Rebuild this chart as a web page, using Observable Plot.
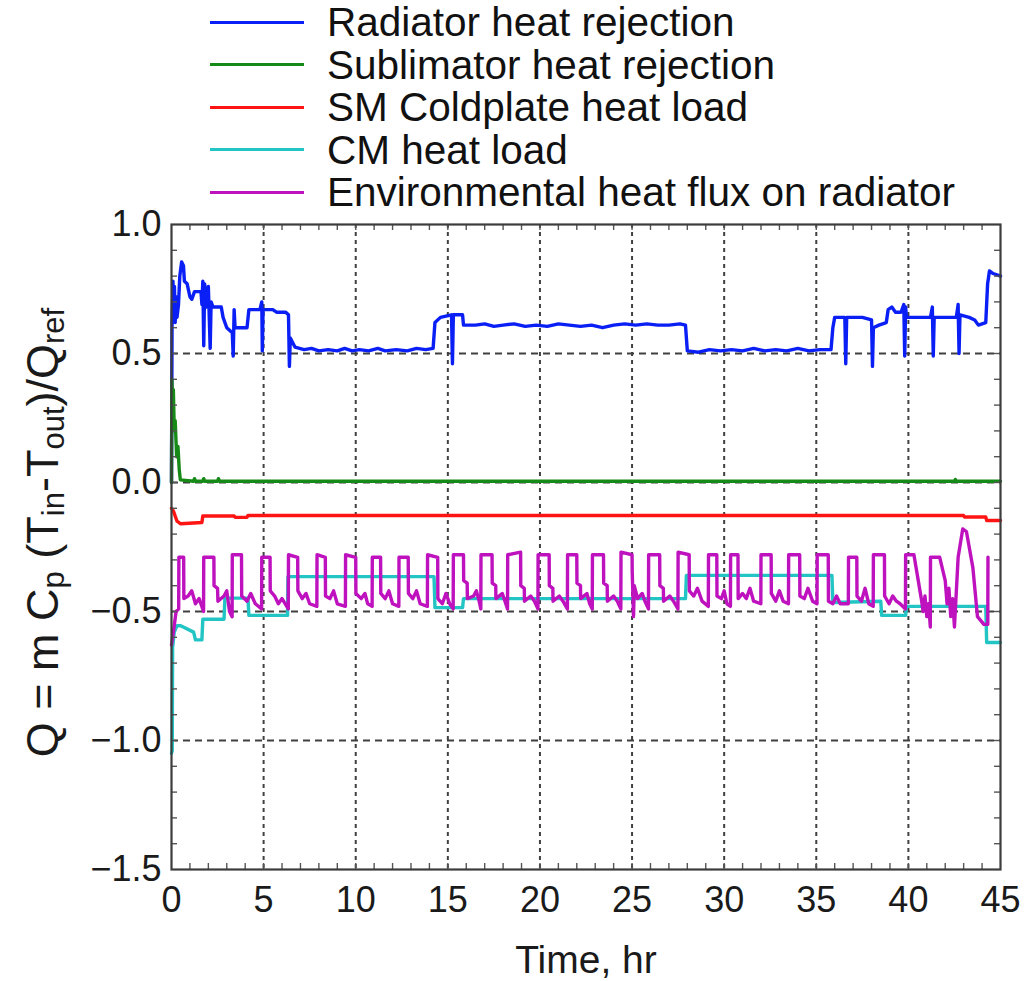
<!DOCTYPE html>
<html>
<head>
<meta charset="utf-8">
<script src="https://cdn.jsdelivr.net/npm/d3@7"></script>
<script src="https://cdn.jsdelivr.net/npm/@observablehq/plot@0.6"></script>
<style>
  html, body { margin: 0; padding: 0; background: #fff; }
  body { width: 1027px; height: 981px; overflow: hidden; font-family: "Liberation Sans", Arial, Helvetica, sans-serif; }
  #legend { position: relative; height: 200px; width: 1027px; }
  .lg-line { position: absolute; left: 210px; width: 94px; height: 3px; }
  .lg-text { position: absolute; left: 327px; height: 44px; line-height: 44px; font-size: 40.5px; color: #111; white-space: nowrap; }
</style>
</head>
<body>
<div id="legend"></div>
<div id="chart"></div>
<script>
// ---- series labels and colours ----
const seriesNames = [
  "Radiator heat rejection",
  "Sublimator heat rejection",
  "SM Coldplate heat load",
  "CM heat load",
  "Environmental heat flux on radiator"
];
const seriesColors = ["#0a1ff5", "#168a16", "#ff1414", "#22c4c4", "#bf12bf"];

// ---- axis ticks ----
const xTicks = [0, 5, 10, 15, 20, 25, 30, 35, 40, 45];
const yTicks = [-1.5, -1.0, -0.5, 0.0, 0.5, 1.0];
const xGrid = [5, 10, 15, 20, 25, 30, 35, 40];
const yGrid = [-1.0, -0.5, 0.0, 0.5];
const xMinor = [1,2,3,4,5,6,7,8,9,10,11,12,13,14,15,16,17,18,19,20,21,22,23,24,25,26,27,28,29,30,31,32,33,34,35,36,37,38,39,40,41,42,43,44];
const yMinor = [-1.4,-1.3,-1.2,-1.1,-1.0,-0.9,-0.8,-0.7,-0.6,-0.5,-0.4,-0.3,-0.2,-0.1,0.0,0.1,0.2,0.3,0.4,0.5,0.6,0.7,0.8,0.9];

// ---- series values [time hr, Q/Qref] ----
const radiator = [
  [0,0.0],[0.03,0.62],[0.08,0.78],[0.12,0.64],[0.16,0.76],[0.2,0.62],[0.25,0.72],[0.3,0.64],[0.38,0.69],
  [0.45,0.8],[0.55,0.855],[0.65,0.84],[0.7,0.78],[0.85,0.77],[1.0,0.72],[1.1,0.71],[1.25,0.74],[1.6,0.74],
  [1.65,0.69],[1.7,0.78],[1.75,0.53],[1.8,0.77],[1.9,0.68],[2.0,0.76],[2.1,0.52],[2.15,0.7],[2.25,0.68],
  [2.7,0.68],[2.8,0.64],[3.0,0.6],[3.3,0.58],[3.35,0.49],[3.4,0.67],[3.45,0.6],[3.6,0.6],[4.1,0.6],
  [4.2,0.67],[4.8,0.67],[4.9,0.7],[4.93,0.51],[4.97,0.67],[5.5,0.67],[5.7,0.66],[6.2,0.66],[6.35,0.65],
  [6.4,0.45],[6.45,0.56],[6.7,0.525],[7.2,0.515],[7.6,0.52],[8.0,0.51],[8.5,0.515],[9.0,0.51],[9.4,0.52],
  [9.8,0.51],[10.2,0.515],[10.7,0.51],[11.2,0.52],[11.6,0.51],[12.2,0.515],[12.8,0.51],[13.3,0.52],
  [13.8,0.515],[14.2,0.52],[14.3,0.62],[14.6,0.64],[15.2,0.65],[15.25,0.46],[15.3,0.65],[15.8,0.65],
  [15.85,0.61],[16.5,0.61],[17.0,0.615],[17.5,0.605],[18.0,0.61],[18.6,0.615],[19.2,0.605],[19.8,0.61],
  [20.4,0.605],[21.0,0.615],[21.6,0.61],[22.2,0.605],[22.8,0.61],[23.4,0.6],[24.0,0.61],[24.6,0.615],
  [25.2,0.61],[25.8,0.615],[26.4,0.61],[27.0,0.61],[27.6,0.615],[27.9,0.61],[28.0,0.51],[28.6,0.505],
  [29.2,0.515],[29.8,0.51],[30.4,0.515],[31.0,0.51],[31.6,0.52],[32.2,0.51],[32.8,0.515],[33.4,0.51],
  [34.0,0.52],[34.6,0.51],[35.2,0.515],[35.8,0.515],[35.9,0.6],[36.0,0.64],[36.55,0.64],[36.6,0.46],
  [36.65,0.64],[37.5,0.64],[38.0,0.63],[38.05,0.45],[38.1,0.6],[38.4,0.61],[38.8,0.62],[38.9,0.67],
  [39.1,0.68],[39.3,0.66],[39.6,0.66],[39.75,0.69],[39.8,0.49],[39.85,0.68],[39.9,0.64],[41.2,0.64],
  [41.3,0.68],[41.35,0.49],[41.4,0.64],[42.6,0.64],[42.7,0.69],[42.75,0.5],[42.8,0.65],[43.3,0.64],
  [43.6,0.63],[43.8,0.61],[44.2,0.62],[44.3,0.77],[44.4,0.82],[44.6,0.81],[45,0.8]
];
const sublimator = [
  [0,0.0],[0.02,0.4],[0.06,0.3],[0.1,0.36],[0.15,0.2],[0.2,0.24],[0.28,0.1],[0.35,0.14],[0.42,0.05],
  [0.48,0.01],[1.2,0.005],[1.25,0.015],[1.3,0.005],[1.7,0.005],[1.75,0.015],[1.8,0.005],[2.5,0.005],
  [2.55,0.015],[2.6,0.005],[42.5,0.005],[42.55,0.012],[42.6,0.005],[45,0.005]
];
const coldplate = [
  [0,-0.1],[0.1,-0.11],[0.3,-0.15],[0.5,-0.16],[1.65,-0.155],[1.7,-0.13],[3.4,-0.13],[3.45,-0.135],
  [4.1,-0.135],[4.15,-0.128],[43.0,-0.128],[43.05,-0.134],[44.2,-0.134],[44.25,-0.147],[45,-0.147]
];
const cmLoad = [
  [0,-1.05],[0.04,-1.04],[0.06,-0.64],[0.15,-0.58],[0.3,-0.555],[0.5,-0.555],[1.2,-0.58],[1.3,-0.61],
  [1.65,-0.61],[1.7,-0.53],[2.85,-0.53],[2.9,-0.448],[4.15,-0.448],[4.2,-0.515],[6.3,-0.515],[6.32,-0.365],
  [14.25,-0.365],[14.3,-0.485],[15.8,-0.485],[15.85,-0.45],[27.9,-0.45],[27.95,-0.36],[35.85,-0.36],
  [35.9,-0.465],[38.5,-0.46],[38.55,-0.515],[39.85,-0.515],[39.9,-0.48],[44.2,-0.48],[44.25,-0.62],[45,-0.62]
];
const envFlux = [
  [0,-0.63],[0.1,-0.58],[0.25,-0.5],[0.39,-0.49],
  [0.4,-0.29],[0.66,-0.29],[0.67,-0.45],[0.9,-0.44],[1.1,-0.42],[1.3,-0.47],[1.5,-0.45],[1.74,-0.5],
  [1.75,-0.29],[2.3,-0.29],[2.31,-0.40],[2.5,-0.41],[2.52,-0.46],[2.85,-0.44],[3.0,-0.42],[3.15,-0.5],[3.29,-0.52],
  [3.3,-0.28],[3.8,-0.28],[3.81,-0.44],[4.1,-0.46],[4.3,-0.43],[4.55,-0.47],[4.89,-0.49],
  [4.9,-0.29],[5.35,-0.29],[5.36,-0.42],[5.6,-0.44],[5.8,-0.47],[6.0,-0.45],[6.34,-0.49],
  [6.35,-0.28],[6.85,-0.29],[6.86,-0.42],[7.1,-0.45],[7.3,-0.43],[7.5,-0.47],[7.89,-0.48],
  [7.9,-0.28],[8.35,-0.29],[8.36,-0.44],[8.6,-0.45],[8.8,-0.42],[9.0,-0.47],[9.44,-0.48],
  [9.45,-0.28],[10.0,-0.29],[10.01,-0.43],[10.3,-0.45],[10.5,-0.43],[10.65,-0.47],[10.89,-0.48],
  [10.9,-0.29],[11.35,-0.29],[11.36,-0.43],[11.6,-0.45],[11.8,-0.42],[12.0,-0.47],[12.34,-0.48],
  [12.35,-0.29],[12.85,-0.29],[12.86,-0.43],[13.1,-0.45],[13.3,-0.42],[13.5,-0.47],[13.89,-0.48],
  [13.9,-0.28],[14.45,-0.29],[14.46,-0.45],[14.7,-0.47],[14.9,-0.43],[15.1,-0.47],[15.29,-0.49],
  [15.3,-0.28],[15.85,-0.28],[15.86,-0.38],[16.05,-0.39],[16.06,-0.45],[16.4,-0.44],[16.55,-0.42],[16.7,-0.46],[16.79,-0.49],
  [16.8,-0.28],[17.4,-0.28],[17.41,-0.39],[17.6,-0.4],[17.61,-0.45],[17.95,-0.43],[18.1,-0.46],[18.24,-0.49],
  [18.25,-0.28],[18.95,-0.27],[18.96,-0.40],[19.15,-0.41],[19.16,-0.46],[19.5,-0.44],[19.7,-0.46],[19.89,-0.49],
  [19.9,-0.28],[20.5,-0.28],[20.51,-0.40],[20.7,-0.41],[20.71,-0.46],[21.05,-0.44],[21.25,-0.46],[21.49,-0.49],
  [21.5,-0.28],[22.0,-0.28],[22.01,-0.39],[22.2,-0.4],[22.21,-0.45],[22.55,-0.43],[22.7,-0.47],[22.84,-0.49],
  [22.85,-0.28],[23.45,-0.28],[23.46,-0.39],[23.65,-0.4],[23.66,-0.46],[24.0,-0.44],[24.2,-0.46],[24.39,-0.49],
  [24.4,-0.27],[25.0,-0.28],[25.01,-0.35],[25.08,-0.52],[25.12,-0.40],[25.3,-0.45],[25.55,-0.43],[25.7,-0.46],[25.89,-0.49],
  [25.9,-0.28],[26.5,-0.28],[26.51,-0.40],[26.7,-0.41],[26.71,-0.46],[27.05,-0.44],[27.25,-0.46],[27.49,-0.49],
  [27.5,-0.27],[28.1,-0.28],[28.11,-0.42],[28.35,-0.44],[28.55,-0.41],[28.8,-0.46],[29.14,-0.48],
  [29.15,-0.28],[29.6,-0.28],[29.61,-0.44],[29.85,-0.45],[30.0,-0.42],[30.15,-0.47],[30.34,-0.48],
  [30.35,-0.28],[30.75,-0.28],[30.76,-0.45],[31.0,-0.43],[31.2,-0.45],[31.4,-0.41],[31.6,-0.46],[31.99,-0.47],
  [32.0,-0.28],[32.55,-0.28],[32.56,-0.43],[32.8,-0.46],[33.0,-0.42],[33.2,-0.46],[33.49,-0.47],
  [33.5,-0.28],[34.1,-0.28],[34.11,-0.44],[34.35,-0.45],[34.55,-0.41],[34.8,-0.46],[35.04,-0.47],
  [35.05,-0.28],[35.65,-0.28],[35.66,-0.46],[35.9,-0.47],[36.1,-0.44],[36.3,-0.47],[36.74,-0.47],
  [36.75,-0.29],[37.2,-0.29],[37.21,-0.44],[37.45,-0.46],[37.65,-0.41],[37.85,-0.47],[38.09,-0.48],
  [38.1,-0.28],[38.7,-0.28],[38.71,-0.44],[38.95,-0.47],[39.15,-0.44],[39.35,-0.46],[39.55,-0.47],[39.84,-0.49],
  [39.85,-0.28],[40.3,-0.28],[40.7,-0.45],[40.8,-0.50],[40.9,-0.44],[41.0,-0.52],[41.1,-0.47],[41.19,-0.56],
  [41.2,-0.29],[41.7,-0.29],[42.0,-0.38],[42.1,-0.47],[42.2,-0.41],[42.3,-0.52],[42.4,-0.45],[42.5,-0.56],
  [42.7,-0.29],[42.95,-0.18],[43.15,-0.19],[43.5,-0.33],[43.75,-0.52],[44.1,-0.55],[44.31,-0.55],[44.32,-0.29]
];
const allSeries = [radiator, sublimator, coldplate, cmLoad, envFlux];

// ---- legend (HTML, above the SVG) ----
const legend = document.getElementById("legend");
const rowY = [22, 64.5, 107, 149.5, 192];
seriesNames.forEach((name, i) => {
  const ln = document.createElement("div");
  ln.className = "lg-line";
  ln.style.top = (rowY[i] - 1.5) + "px";
  ln.style.background = seriesColors[i];
  legend.appendChild(ln);
  const tx = document.createElement("div");
  tx.className = "lg-text";
  tx.style.top = (rowY[i] - 22) + "px";
  tx.textContent = name;
  legend.appendChild(tx);
});

// ---- chart ----
const W = 1027, H = 781;
const mL = 171, mR = 27, mT = 24, mB = 112;
const innerW = W - mL - mR, innerH = H - mT - mB;
const tickLen = 6;
const fmtY = d => (d < 0 ? "\u2212" : "") + Math.abs(d).toFixed(1);

const lineMarks = allSeries.map((s, i) =>
  Plot.line(s, {x: d => d[0], y: d => d[1], stroke: seriesColors[i], strokeWidth: 3.4, strokeLinejoin: "round"})
);

const svg = Plot.plot({
  width: W, height: H,
  marginLeft: mL, marginRight: mR, marginTop: mT, marginBottom: mB,
  style: {fontFamily: "'Liberation Sans', Arial, Helvetica, sans-serif", color: "#1a1a1a", background: "#fff"},
  x: {domain: [0, 45]},
  y: {domain: [-1.5, 1.0]},
  marks: [
    Plot.ruleX(xGrid, {stroke: "#404040", strokeWidth: 2, strokeDasharray: "4,4", strokeOpacity: 1}),
    Plot.ruleY(yGrid, {stroke: "#404040", strokeWidth: 2, strokeDasharray: "7,5", strokeOpacity: 1}),
    ...lineMarks,
    Plot.tickX(xMinor, {x: d => d, insetTop: innerH - tickLen, stroke: "#555", strokeWidth: 1.4}),
    Plot.tickX(xMinor, {x: d => d, insetBottom: innerH - tickLen, stroke: "#555", strokeWidth: 1.4}),
    Plot.tickY(yMinor, {y: d => d, insetRight: innerW - tickLen, stroke: "#555", strokeWidth: 1.4}),
    Plot.tickY(yMinor, {y: d => d, insetLeft: innerW - tickLen, stroke: "#555", strokeWidth: 1.4}),
    Plot.frame({stroke: "#3c3c3c", strokeWidth: 2.2}),
    Plot.axisX({ticks: xTicks, tickSize: 0, tickPadding: 17, fontSize: 36, label: null, tickFormat: d3.format("d")}),
    Plot.axisY({ticks: yTicks, tickSize: 0, tickPadding: 10, fontSize: 36, label: null, tickFormat: fmtY}),
    Plot.text(["Time, hr"], {frameAnchor: "bottom", dy: 91, fontSize: 39, fill: "#1a1a1a", lineAnchor: "middle"})
  ]
});

// y-axis title with subscripts
const yl = d3.select(svg).append("text")
  .attr("transform", `translate(46, ${mT + innerH / 2 - 14}) rotate(-90)`)
  .attr("text-anchor", "middle")
  .attr("dominant-baseline", "middle")
  .attr("font-size", 45)
  .attr("fill", "#1a1a1a")
  .attr("font-family", "'Liberation Sans', Arial, Helvetica, sans-serif");
const parts = [["Q = m C", false], ["p", true], [" (T", false], ["in", true], ["-T", false], ["out", true], [")/Q", false], ["ref", true]];
parts.forEach(([t, sub], i) => {
  const ts = yl.append("tspan").text(t);
  const prevSub = i > 0 && parts[i - 1][1];
  if (sub) ts.attr("font-size", 31).attr("dy", 10);
  else if (prevSub) ts.attr("dy", -10);
});

document.getElementById("chart").appendChild(svg);
</script>
</body>
</html>
